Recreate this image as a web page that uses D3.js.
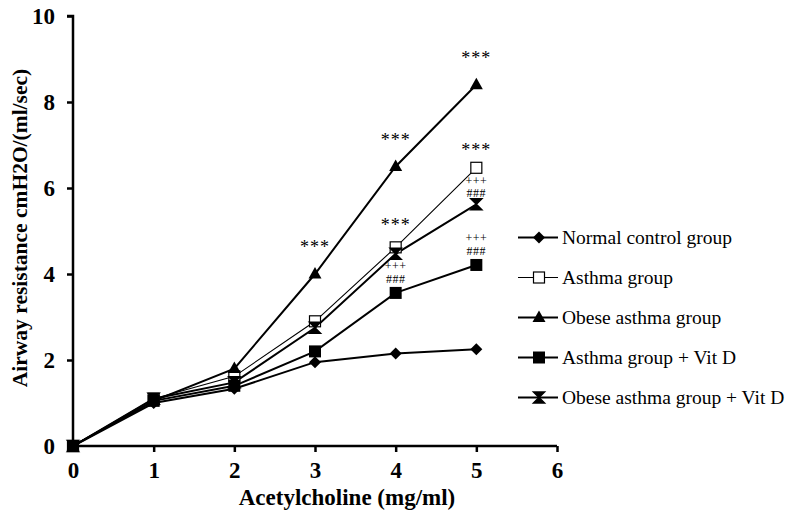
<!DOCTYPE html>
<html>
<head>
<meta charset="utf-8">
<script src="https://cdn.jsdelivr.net/npm/d3@7"></script>
<style>
  body { margin: 0; background: #fff; }
  text { font-family: "Liberation Serif", "Times New Roman", serif; }
</style>
</head>
<body>
<script>
// doses and group responses
var doses = [0, 1, 2, 3, 4, 5];
var groups = ["Normal control group", "Asthma group", "Obese asthma group", "Asthma group + Vit D", "Obese asthma group + Vit D"];
var normal = [0, 1.0, 1.33, 1.95, 2.15, 2.25];
var asthma = [0, 1.1, 1.62, 2.9, 4.62, 6.47];
var obese = [0, 1.05, 1.8, 4.0, 6.5, 8.4];
var asthmaVitD = [0, 1.05, 1.4, 2.2, 3.56, 4.21];
var obeseVitD = [0, 1.1, 1.48, 2.75, 4.47, 5.62];
var xTicks = [0, 1, 2, 3, 4, 5, 6];
var yTicks = [0, 2, 4, 6, 8, 10];
// significance marks: [group index, dose, label lines]
var marks = [
  [2, 3, ["***"]], [2, 4, ["***"]], [2, 5, ["***"]],
  [1, 4, ["***"]], [1, 5, ["***"]],
  [4, 5, ["+++", "###"]],
  [3, 4, ["+++", "###"]], [3, 5, ["+++", "###"]]
];

var series = [normal, asthma, obese, asthmaVitD, obeseVitD];
var symbols = ["diamond", "openSquare", "triangle", "square", "hourglass"];

var width = 788, height = 510;

var svg = d3.select("body").append("svg")
    .attr("width", width)
    .attr("height", height);

var x = d3.scaleLinear().domain([0, 6]).range([73, 557]);
var y = d3.scaleLinear().domain([0, 10]).range([446, 16]);

// axes
var xAxis = svg.append("g")
    .attr("transform", "translate(0," + y(0) + ")")
    .call(d3.axisBottom(x).tickValues(xTicks).tickSize(6).tickPadding(10).tickFormat(d3.format("d")));
var yAxis = svg.append("g")
    .attr("transform", "translate(" + x(0) + ",0)")
    .call(d3.axisLeft(y).tickValues(yTicks).tickSize(6).tickPadding(12).tickFormat(d3.format("d")));

[xAxis, yAxis].forEach(function(a) {
  a.select(".domain").attr("stroke", "#000").attr("stroke-width", 2.5);
  a.selectAll(".tick line").attr("stroke", "#000").attr("stroke-width", 2.5);
  a.selectAll(".tick text")
    .attr("fill", "#000")
    .style("font-family", "Liberation Serif")
    .style("font-weight", "bold")
    .style("font-size", "23px");
});
xAxis.select(".domain").attr("d", "M" + x(0) + ",0H" + x(6));
yAxis.select(".domain").attr("d", "M0," + y(0) + "V" + y(10) + "h-6");

svg.append("text")
    .attr("x", 347)
    .attr("y", 505)
    .attr("text-anchor", "middle")
    .style("font-weight", "bold")
    .style("font-size", "23px")
    .text("Acetylcholine (mg/ml)");

svg.append("text")
    .attr("transform", "translate(27,228) rotate(-90)")
    .attr("text-anchor", "middle")
    .style("font-weight", "bold")
    .style("font-size", "21.5px")
    .text("Airway resistance cmH2O/(ml/sec)");

function drawSymbol(g, kind, cx, cy) {
  if (kind == "diamond") {
    g.append("path").attr("d", "M" + cx + "," + (cy - 6) + "l6,6l-6,6l-6,-6z").attr("fill", "#000");
  } else if (kind == "openSquare") {
    g.append("rect").attr("x", cx - 5.5).attr("y", cy - 5.5).attr("width", 11).attr("height", 11)
      .attr("fill", "#fff").attr("stroke", "#000").attr("stroke-width", 1.2);
  } else if (kind == "triangle") {
    g.append("path").attr("d", "M" + cx + "," + (cy - 7) + "l6.5,11.5h-13z").attr("fill", "#000");
  } else if (kind == "square") {
    g.append("rect").attr("x", cx - 6).attr("y", cy - 6).attr("width", 12).attr("height", 12).attr("fill", "#000");
  } else {
    g.append("path").attr("d", "M" + (cx - 5.5) + "," + (cy - 5.5) + "h11l-11,11h11z")
      .attr("fill", "#000").attr("stroke", "#000").attr("stroke-width", 1.5);
  }
}

var line = d3.line()
    .x(function(d, i) { return x(doses[i]); })
    .y(function(d) { return y(d); });

series.forEach(function(vals, k) {
  svg.append("path")
      .datum(vals)
      .attr("fill", "none")
      .attr("stroke", "#000")
      .attr("stroke-width", k == 1 ? 1.1 : 2)
      .attr("d", line);
});

series.forEach(function(vals, k) {
  var g = svg.append("g");
  vals.forEach(function(v, i) { drawSymbol(g, symbols[k], x(doses[i]), y(v)); });
});

// significance marks
marks.forEach(function(m) {
  var v = series[m[0]][doses.indexOf(m[1])];
  var lines = m[2];
  if (lines.length == 1) {
    var off = m[0] == 2 ? 21 : (m[1] == 5 ? 12 : 16);
    svg.append("text")
      .attr("text-anchor", "middle")
      .attr("x", x(m[1]))
      .attr("y", y(v) - off)
      .style("font-size", "18px")
      .style("letter-spacing", "1px")
      .text(lines[0]);
  } else {
    // the obese + Vit D marks sit tighter under the asthma square
    var tight = m[0] == 4;
    var base = y(v) - (tight ? 7 : 10);
    [lines[1], lines[0]].forEach(function(s, j) {
      svg.append("text")
        .attr("text-anchor", "middle")
        .attr("x", x(m[1]))
        .attr("y", base - j * 12.5)
        .style("font-size", "12px")
        .style("letter-spacing", "0.5px")
        .text(s);
    });
  }
});

// legend
var legend = svg.append("g");
groups.forEach(function(name, k) {
  var ly = 237.5 + k * 40;
  legend.append("line")
      .attr("x1", 518).attr("x2", 558)
      .attr("y1", ly).attr("y2", ly)
      .attr("stroke", "#000")
      .attr("stroke-width", k == 1 ? 1.2 : 2);
  drawSymbol(legend, symbols[k], 539, ly);
  legend.append("text")
      .attr("x", 562)
      .attr("y", ly + 6.5)
      .style("font-size", "19.5px")
      .text(name);
});
</script>
</body>
</html>
